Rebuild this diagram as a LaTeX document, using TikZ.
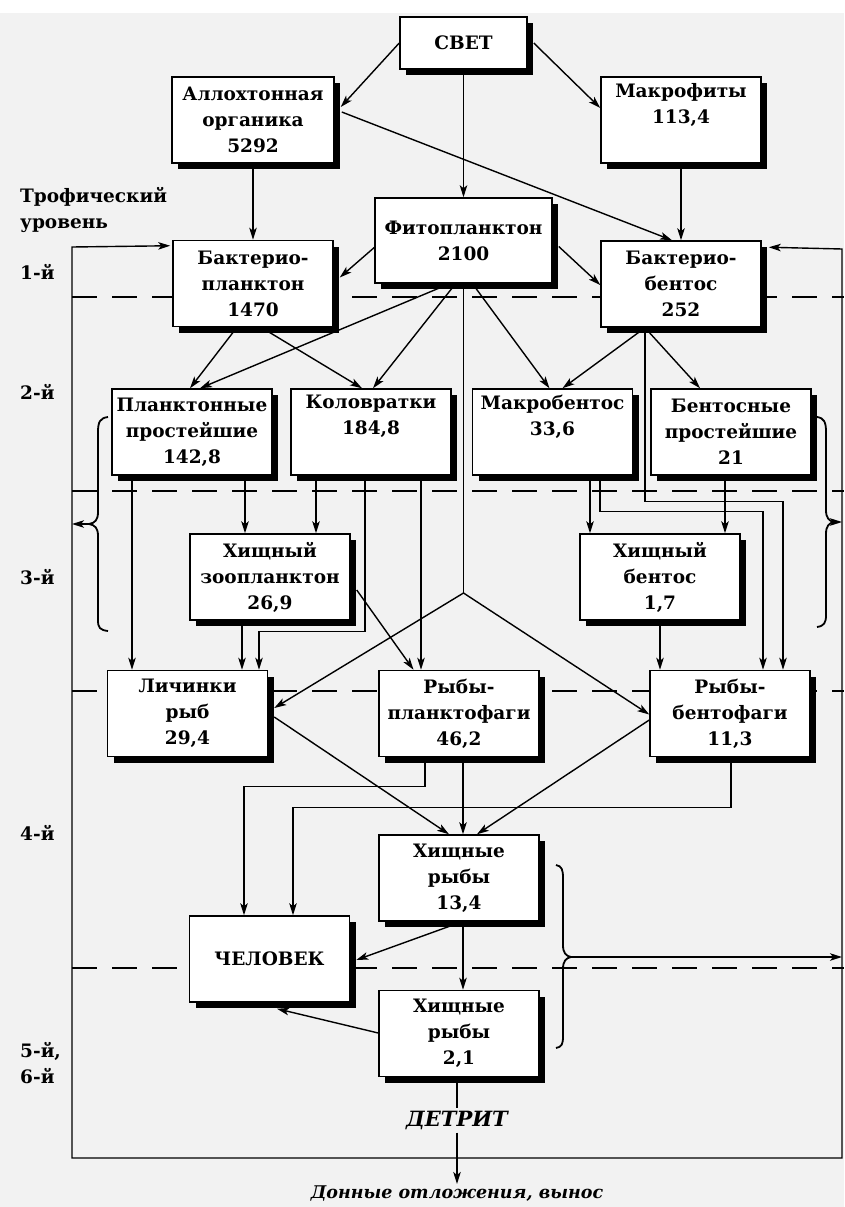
\documentclass[tikz,border=0pt]{standalone}
\usepackage{fontspec}
\setmainfont{DejaVu Serif}
\usetikzlibrary{arrows.meta,shadows,calc}
\pgfdeclarelayer{bg}
\pgfsetlayers{bg,main}
\tikzset{
  bx/.style={draw, line width=1.5pt, fill=white, align=center, inner xsep=1pt, inner ysep=2pt,
    minimum width=160pt, minimum height=86pt, font=\bfseries\fontsize{18.5}{26}\selectfont,
    drop shadow={shadow xshift=6pt, shadow yshift=-6pt, fill=black, opacity=1}},
  ln/.style={line width=1.4pt},
  ar/.style={ln, -{Stealth[length=12pt,width=7.5pt,inset=3pt]}},
  arb/.style={ln, {Stealth[length=12pt,width=7.5pt,inset=3pt]}-{Stealth[length=12pt,width=7.5pt,inset=3pt]}},
  dsh/.style={line width=1.4pt, dash pattern=on 25pt off 15pt},
  lbl/.style={font=\bfseries\fontsize{18.5}{26}\selectfont, anchor=west, align=left, inner sep=0pt},
  brc/.style={line width=1.8pt},
}
\begin{document}
\begin{tikzpicture}[x=1pt,y=-1pt]
\useasboundingbox (0,0) rectangle (844,1207);
\begin{pgfonlayer}{bg}
\fill[black!5] (0,13) rectangle (844,1207);
\end{pgfonlayer}

% boxes
\node[bx, minimum width=127pt, minimum height=52pt] (svet) at (463.5,43) {СВЕТ};
\node[bx, minimum width=162pt] (allo) at (253,120) {Аллохтонная\\органика\\5292};
\node[bx] (makrof) at (681,120) {Макрофиты\\113,4\\\strut};
\node[bx, minimum width=177pt, minimum height=85pt] (fito) at (463.5,240.5) {Фитопланктон\\2100};
\node[bx] (bplank) at (253,283.5) {Бактерио-\\планктон\\1470};
\node[bx] (bbent) at (681,284) {Бактерио-\\бентос\\252};
\node[bx] (pprost) at (192,432) {Планктонные\\простейшие\\142,8};
\node[bx] (kolov) at (371,432) {Коловратки\\184,8\\\strut};
\node[bx] (makrob) at (552.5,432) {Макробентос\\33,6\\\strut};
\node[bx] (bprost) at (731,432) {Бентосные\\простейшие\\21};
\node[bx] (hzoo) at (270,577) {Хищный\\зоопланктон\\26,9};
\node[bx] (hbent) at (660,577) {Хищный\\бентос\\1,7};
\node[bx] (lich) at (187.5,713.5) {Личинки\\рыб\\29,4};
\node[bx] (rplank) at (459,713.5) {Рыбы-\\планктофаги\\46,2};
\node[bx] (rbent) at (730,713.5) {Рыбы-\\бентофаги\\11,3};
\node[bx] (hr1) at (459,878) {Хищные\\рыбы\\13,4};
\node[bx] (chel) at (269.5,959) {ЧЕЛОВЕК};
\node[bx] (hr2) at (459,1033.5) {Хищные\\рыбы\\2,1};

% labels
\node[lbl] (troph) at (20,210) {Трофический\\уровень};
\node[lbl] (l1) at (20,272) {1-й};
\node[lbl] (l2) at (20,392) {2-й};
\node[lbl] (l3) at (20,577) {3-й};
\node[lbl] (l4) at (20,833) {4-й};
\node[lbl] (l56) at (20,1063) {5-й,\\6-й};
\node[font=\bfseries\itshape\fontsize{21}{24}\selectfont, inner sep=3pt] (detr) at (457,1120) {ДЕТРИТ};
\node[font=\bfseries\itshape\fontsize{17.5}{20}\selectfont, inner sep=2pt] (don) at (457,1194) {Донные отложения, вынос};

\coordinate (cTL) at (72,247);
\coordinate (cBL) at (72,1158);
\coordinate (cBR) at (842,1158);
\coordinate (cTR) at (842,249);
\coordinate (fork) at (463.5,593);
\coordinate (bbo) at ($(bbent.south)+(-36,0)$);
\coordinate (lbt) at (89,524);
\coordinate (rbt) at (834,522);
\coordinate (hbt) at (571,957);

\begin{pgfonlayer}{bg}
% dashed level lines
\foreach \yy in {297,491,691,968} \draw[dsh] (72,\yy) -- (844,\yy);
% outer loop
\draw[arb] ($(bplank.north west)+(-2,6)$) -- (cTL) -- (cBL) -- (cBR) -- (cTR) -- ($(bbent.north east)+(7,7)$);
% top
\draw[ar] (svet.west) -- ($(allo.east)+(6,-13)$);
\draw[ar] ($(svet.east)+(6,0)$) -- ($(makrof.west)+(0,-12)$);
\draw[ar] (svet.south) -- (fito.north);
\draw[ar] (allo.south) -- (bplank.north);
\draw[ar] ($(allo.east)+(7,-8)$) -- ($(bbent.north)+(-9,0)$);
\draw[ar] (makrof.south) -- (bbent.north);
\draw[ar] ($(fito.west)+(0,7)$) -- ($(bplank.east)+(6,-6)$);
\draw[ar] ($(fito.east)+(6,6)$) -- ($(bbent.west)+(0,1)$);
% level 1 -> 2
\draw[ar] ($(bplank.south)+(-16,0)$) -- ($(pprost.north)+(-2,0)$);
\draw[ar] ($(bplank.south)+(8,0)$) -- ($(kolov.north)+(-9,0)$);
\draw[ar] ($(fito.south)+(-14,0)$) -- ($(pprost.north)+(8,0)$);
\draw[ar] ($(fito.south)+(-8,0)$) -- ($(kolov.north)+(2,0)$);
\draw[ar] ($(fito.south)+(9,0)$) -- ($(makrob.north)+(-3,0)$);
\draw[ln] (fito.south) -- (fork);
\draw[ar] (fork) -- ($(lich.east)+(6,-5.5)$);
\draw[ar] (fork) -- ($(rbent.west)+(0,1)$);
\draw[ar] (bbo) -- ($(makrob.north)+(10,0)$);
\draw[ar] (bbo) -- ($(bprost.north)+(-31,0)$);
\draw[ar] (bbo) -- ++(0,174) -| ($(rbent.north)+(53,0)$);
% level 2 -> 3
\draw[ar] ($(makrob.south)+(37.5,0)$) -- ($(hbent.north)+(-70,0)$);
\draw[ar] ($(makrob.south)+(47.5,0)$) -- ++(0,36) -| ($(rbent.north)+(33,0)$);
\draw[ar] ($(bprost.south)+(-6,0)$) -- ($(hbent.north)+(65,0)$);
\draw[ar] (hbent.south) -- ($(rbent.north)+(-70,0)$);
\draw[ar] ($(pprost.south)+(53,0)$) -- ($(hzoo.north)+(-25,0)$);
\draw[ar] ($(pprost.south)+(-60,0)$) -- ($(lich.north)+(-55.5,0)$);
\draw[ar] ($(kolov.south)+(-55,0)$) -- ($(hzoo.north)+(46,0)$);
\draw[ar] ($(kolov.south)+(-6,0)$) -- ++(0,156) -| ($(lich.north)+(71.5,0)$);
\draw[ar] ($(kolov.south)+(50,0)$) -- ($(rplank.north)+(-38,0)$);
\draw[ar] ($(hzoo.south)+(-28,0)$) -- ($(lich.north)+(54.5,0)$);
\draw[ar] ($(hzoo.east)+(6,13)$) -- ($(rplank.north)+(-45.5,0)$);
% level 3 -> 4
\draw[ar] ($(lich.east)+(6,3.5)$) -- ($(hr1.north)+(-10,0)$);
\draw[ar] ($(rplank.south)+(4,0)$) -- ($(hr1.north)+(4,0)$);
\draw[ar] ($(rplank.south)+(-34,0)$) -- ++(0,29) -| ($(chel.north)+(-25.5,0)$);
\draw[ar] ($(rbent.west)+(0,6.5)$) -- ($(hr1.north)+(18,0)$);
\draw[ar] ($(rbent.south)+(1,0)$) -- ++(0,50) -| ($(chel.north)+(23.5,0)$);
\draw[ar] ($(hr1.south)+(3,0)$) -- ($(chel.east)+(6,1)$);
\draw[ar] ($(hr1.south)+(4,0)$) -- ($(hr2.north)+(4,0)$);
\draw[ar] ($(hr2.west)+(0,-0.5)$) -- ($(chel.south)+(7.5,6)$);
\draw[ln] ($(hr2.south)+(-2,0)$) -- (detr.north);
\draw[ar] (detr.south) -- (don.north);
% braces
\draw[brc] (108,417) .. controls (100,418) and (98,422) .. (98,432) -- (98,512)
  .. controls (98,520) and (95,523) .. (lbt) .. controls (95,525) and (98,528) .. (98,536)
  -- (98,620) .. controls (98,628) and (100,630) .. (108,631);
\draw[ar] (lbt) -- (lbt -| cTL);
\draw[brc] (817,417) .. controls (824,418) and (826,422) .. (826,432) -- (826,510)
  .. controls (826,518) and (829,521) .. (rbt) .. controls (829,523) and (826,526) .. (826,534)
  -- (826,615) .. controls (826,623) and (824,626) .. (817,627);
\draw[ar] (rbt) -- (rbt -| cTR);
\draw[brc] (556,865) .. controls (562,866) and (563,870) .. (563,878) -- (563,945)
  .. controls (563,953) and (566,956) .. (hbt) .. controls (566,958) and (563,961) .. (563,969)
  -- (563,1036) .. controls (563,1044) and (562,1047) .. (556,1048);
\draw[ar] (hbt) -- (hbt -| cTR);
\end{pgfonlayer}
\end{tikzpicture}
\end{document}
